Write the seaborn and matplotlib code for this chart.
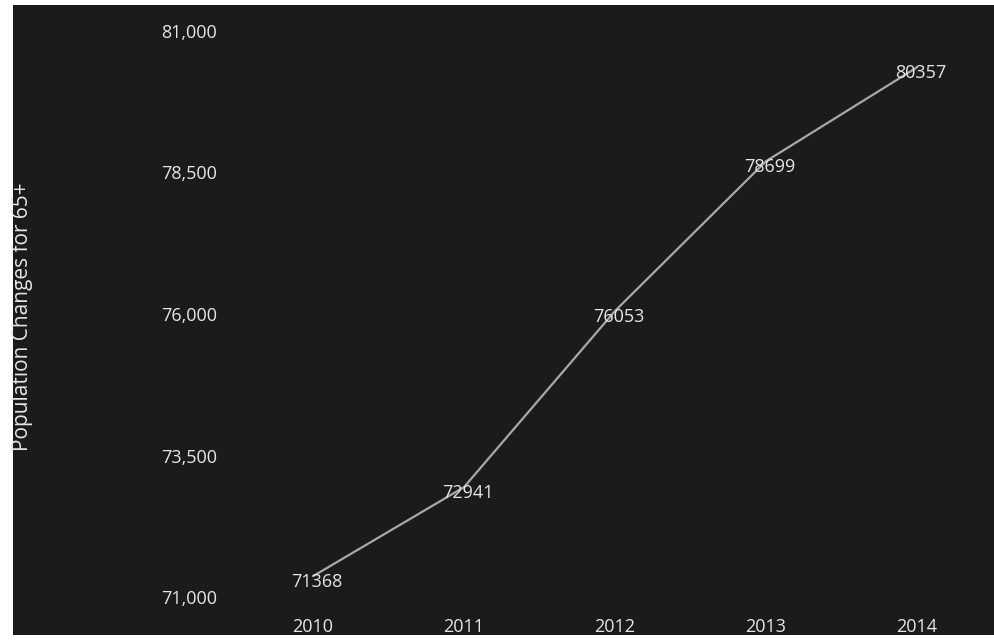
import numpy as np
import pandas as pd
import matplotlib
matplotlib.use("Agg")
import matplotlib.pyplot as plt
import seaborn as sns

# Data
years = [2010, 2011, 2012, 2013, 2014]
population_65 = [71368, 72941, 76053, 78699, 80357]
y_ticks = [71000, 73500, 76000, 78500, 81000]
y_label = "Population Changes for 65+"

df = pd.DataFrame({"Year": years, "Population": population_65})

sns.set_theme(style="dark")
plt.rcParams["font.family"] = ["Open Sans", "DejaVu Sans"]

bg = "#1b1b1b"
fg = "#e6e6e6"

fig = plt.figure(figsize=(9.95, 6.4), dpi=100, facecolor="white")
ax = fig.add_axes([13 / 995, 5 / 640, 982 / 995, 630 / 640])
ax.set_facecolor(bg)

sns.lineplot(data=df, x="Year", y="Population", ax=ax,
             color="#a8a8a8", linewidth=1.6)

# value labels on the points
for yr, val in zip(years, population_65):
    ax.annotate(str(val), (yr, val), xytext=(3, -4), textcoords="offset points",
                ha="center", va="center", color=fg, fontsize=13)

ax.set_xlim(2008.013, 2014.517)
ax.set_ylim(70329, 81459)
ax.set_xticks(years)
ax.set_xticklabels([str(y) for y in years])
ax.set_yticks(y_ticks)
ax.set_yticklabels([f"{t:,}" for t in y_ticks])

ax.tick_params(axis="y", length=0, pad=-147, colors=fg, labelsize=13)
ax.tick_params(axis="x", length=0, pad=-12, colors=fg, labelsize=13)

ax.set_xlabel("")
ax.set_ylabel(y_label, color=fg, fontsize=15)
ax.yaxis.set_label_coords(10 / 982, 0.505)
ax.yaxis.label.set_verticalalignment("center")

for s in ax.spines.values():
    s.set_visible(False)
ax.grid(False)

fig.savefig("out.png", dpi=100, facecolor=fig.get_facecolor())
